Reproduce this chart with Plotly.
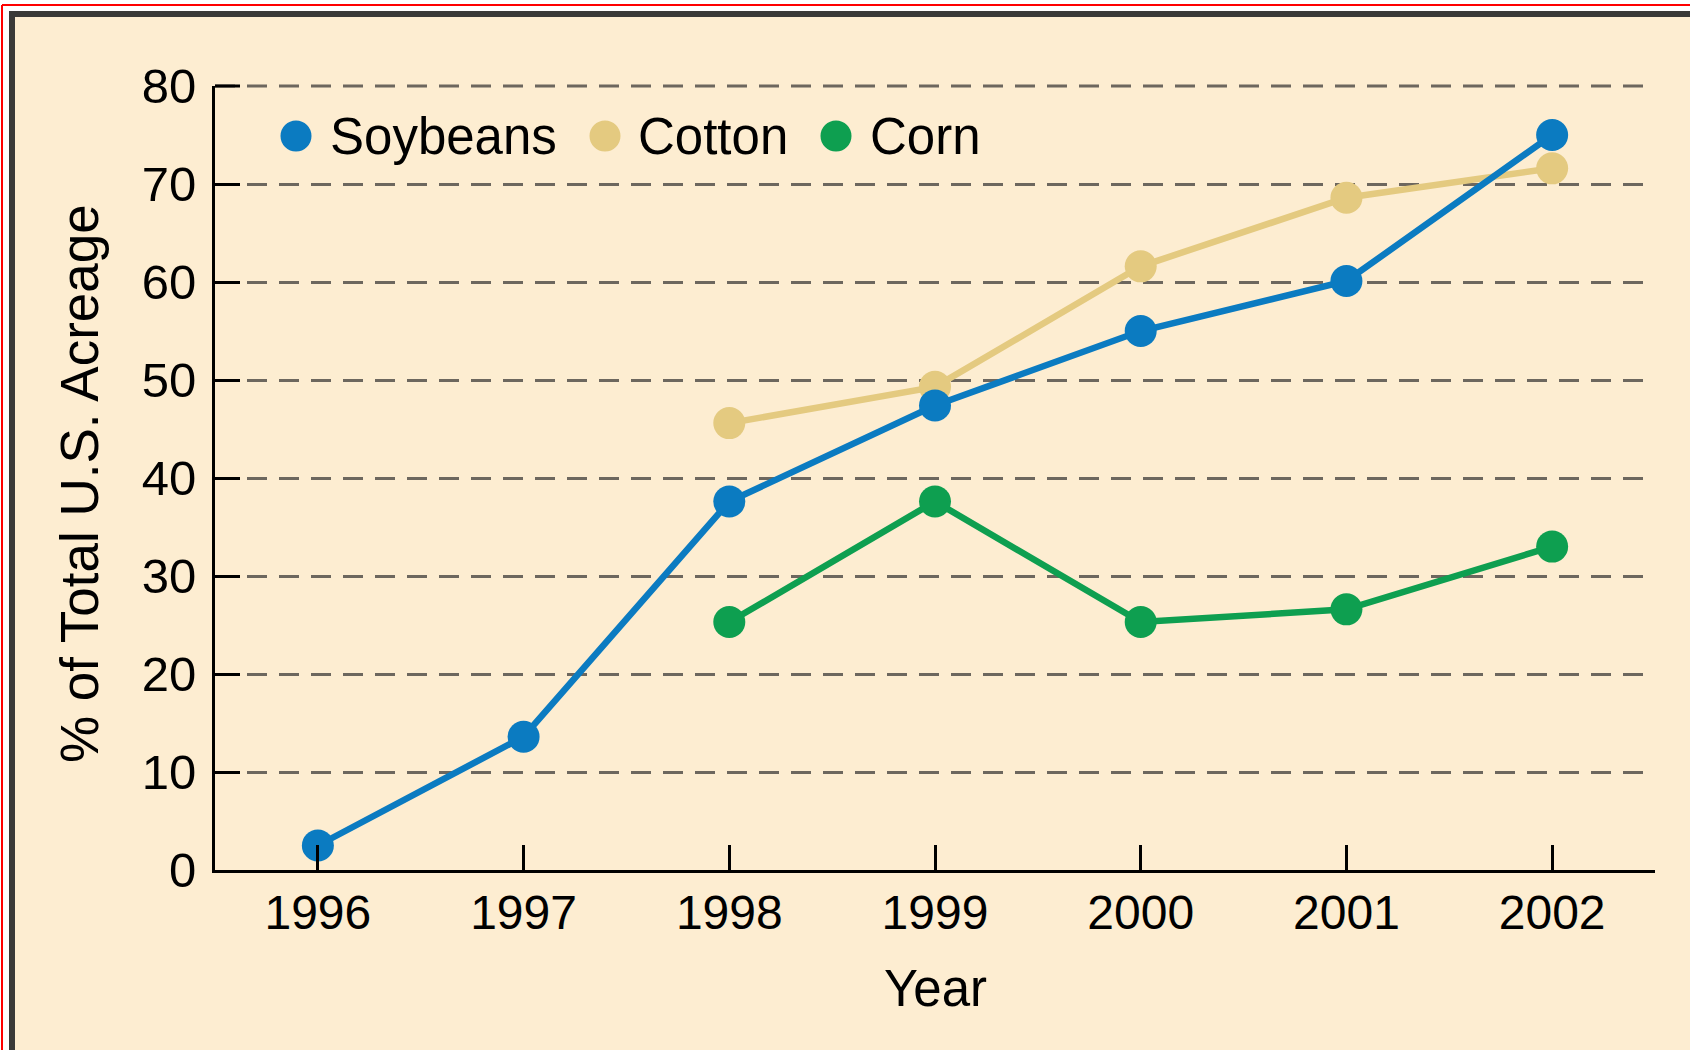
import plotly.graph_objects as go

# Adoption of genetically engineered crops, % of total U.S. acreage
years = [1996, 1997, 1998, 1999, 2000, 2001, 2002]
soybeans = [2.5, 13.6, 37.6, 47.4, 55.0, 60.1, 75.0]
cotton_years = [1998, 1999, 2000, 2001, 2002]
cotton = [45.6, 49.3, 61.6, 68.6, 71.6]
corn_years = [1998, 1999, 2000, 2001, 2002]
corn = [25.3, 37.6, 25.3, 26.6, 33.0]

series_names = ["Soybeans", "Cotton", "Corn"]
y_ticks = [0, 10, 20, 30, 40, 50, 60, 70, 80]

BLUE = "#0B7BC1"
TAN = "#E4CA80"
GREEN = "#0E9F50"
CREAM = "#FDEDD1"
GRID = "#6D675E"
DASH = "20px,12px"

W, H = 1690, 1050
L, T, R, B = 215, 86, 35, 180
PW, PH = W - L - R, H - T - B


def px(x):
    return (x - L) / PW


def py(y):
    return 1 - (y - T) / PH


fig = go.Figure()

line_w = 6.5
msize = 32
# cotton underneath, soybeans on top
fig.add_trace(go.Scatter(x=cotton_years, y=cotton, mode="lines+markers", name="Cotton",
                         line=dict(color=TAN, width=line_w),
                         marker=dict(color=TAN, size=msize), showlegend=False))
fig.add_trace(go.Scatter(x=corn_years, y=corn, mode="lines+markers", name="Corn",
                         line=dict(color=GREEN, width=line_w),
                         marker=dict(color=GREEN, size=msize), showlegend=False))
fig.add_trace(go.Scatter(x=years, y=soybeans, mode="lines+markers", name="Soybeans",
                         line=dict(color=BLUE, width=line_w),
                         marker=dict(color=BLUE, size=msize), showlegend=False))

font = "Liberation Sans, Arial, Helvetica, sans-serif"

fig.update_xaxes(range=[1995.5, 2002.5], tickvals=years, ticktext=[str(y) for y in years],
                 showgrid=False, zeroline=False, showline=True, linecolor="black", linewidth=3,
                 ticks="inside", ticklen=25, tickwidth=3, tickcolor="black",
                 tickfont=dict(family=font, size=48, color="black"), ticklabelstandoff=-2)
fig.update_yaxes(range=[0, 80], tickvals=y_ticks, showgrid=True, gridcolor=GRID, gridwidth=3,
                 griddash=DASH, zeroline=False, showline=True, linecolor="black",
                 linewidth=3, ticks="inside", ticklen=25, tickwidth=3, tickcolor="black",
                 tickfont=dict(family=font, size=49, color="black"), ticklabelstandoff=6)

shapes = []
annotations = []

# top gridline along the upper edge of the value range
shapes.append(dict(type="line", xref="paper", yref="paper", x0=0, x1=1, y0=1, y1=1,
                   line=dict(color=GRID, width=3, dash=DASH), layer="below"))
shapes.append(dict(type="line", xref="paper", yref="paper", x0=0, x1=px(L + 25), y0=1, y1=1,
                   line=dict(color="black", width=3)))

# frame: white margin, red rule, dark top/left border
shapes.append(dict(type="rect", xref="paper", yref="paper", x0=px(0), x1=px(W), y0=py(11), y1=py(0),
                   fillcolor="white", line=dict(width=0), layer="above"))
shapes.append(dict(type="rect", xref="paper", yref="paper", x0=px(0), x1=px(9), y0=py(H), y1=py(0),
                   fillcolor="white", line=dict(width=0), layer="above"))
shapes.append(dict(type="line", xref="paper", yref="paper", x0=px(2), x1=px(W), y0=py(5), y1=py(5),
                   line=dict(color="#FF0000", width=2)))
shapes.append(dict(type="line", xref="paper", yref="paper", x0=px(2), x1=px(2), y0=py(H), y1=py(5),
                   line=dict(color="#FF0000", width=2)))
shapes.append(dict(type="rect", xref="paper", yref="paper", x0=px(9), x1=px(W), y0=py(17), y1=py(11),
                   fillcolor="#3A3A38", line=dict(width=0)))
shapes.append(dict(type="rect", xref="paper", yref="paper", x0=px(9), x1=px(15), y0=py(H), y1=py(11),
                   fillcolor="#3A3A38", line=dict(width=0)))

# legend: large dots with labels
legend_colors = [BLUE, TAN, GREEN]
dot_x = [296, 605, 836]
text_x = [328, 636, 868]
leg_y = 136
for name, c, dx, tx in zip(series_names, legend_colors, dot_x, text_x):
    shapes.append(dict(type="circle", xref="paper", yref="paper", xsizemode="pixel", ysizemode="pixel",
                       xanchor=px(dx), yanchor=py(leg_y), x0=-15.5, x1=15.5, y0=-15.5, y1=15.5,
                       fillcolor=c, line=dict(width=0)))
    annotations.append(dict(xref="paper", yref="paper", x=px(tx), y=py(leg_y), text=name,
                            showarrow=False, xanchor="left", yanchor="middle",
                            font=dict(family=font, size=51, color="black")))

# axis titles
annotations.append(dict(xref="paper", yref="paper", x=px(935), y=py(989), text="Year",
                        showarrow=False, xanchor="center", yanchor="middle",
                        font=dict(family=font, size=51, color="black")))
annotations.append(dict(xref="paper", yref="paper", x=px(79), y=py(484), text="% of Total U.S. Acreage",
                        showarrow=False, xanchor="center", yanchor="middle", textangle=-90,
                        font=dict(family=font, size=53, color="black")))

fig.update_layout(width=W, height=H, margin=dict(l=L, r=R, t=T, b=B),
                  paper_bgcolor=CREAM, plot_bgcolor=CREAM, showlegend=False,
                  shapes=shapes, annotations=annotations)

fig.write_html("out.html")
